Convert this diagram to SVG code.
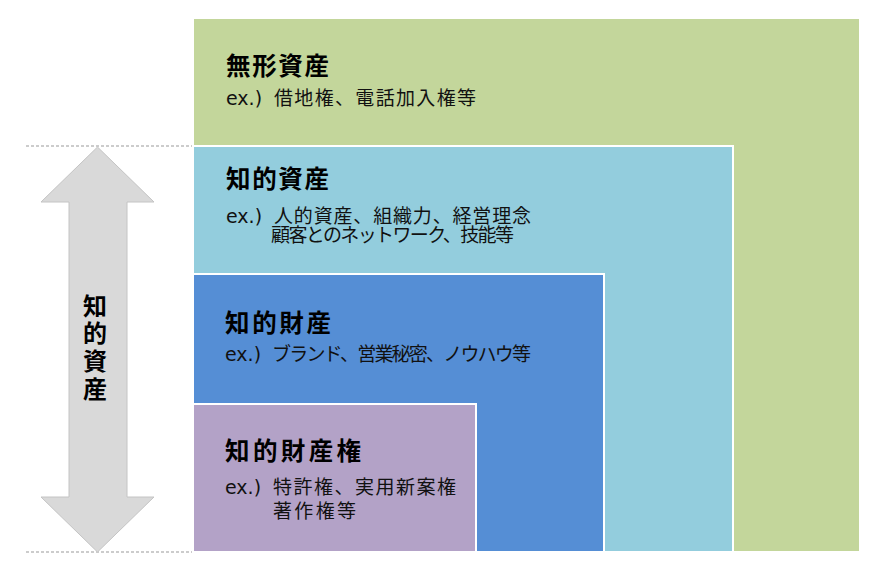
<svg xmlns="http://www.w3.org/2000/svg" width="888" height="570" viewBox="0 0 888 570">
<style>
.box{stroke:#fff;stroke-width:2}
.t{font-family:"Noto Sans CJK JP",sans-serif;font-weight:bold;font-size:24.5px;fill:#000}
.s{font-family:"Noto Sans CJK JP",sans-serif;font-size:19px;fill:#111}
.e{font-family:"DejaVu Sans",sans-serif;font-size:19px;fill:#111}
.v{font-family:"Noto Sans CJK JP",sans-serif;font-weight:bold;font-size:24px;fill:#000;text-anchor:middle}
.dash{stroke:#999;stroke-width:1;stroke-dasharray:3 2}
</style>
<rect width="888" height="570" fill="#fff"/>
<g id="connectors">
<line class="dash" x1="26" y1="146" x2="193" y2="146"/>
<line class="dash" x1="26" y1="552" x2="193" y2="552"/>
</g>
<g id="arrow">
<polygon points="97.5,147 154,202 127,202 127,497 154,497 97.5,552 41,497 69,497 69,202 41,202" fill="#d9d9d9" stroke="#c4c4c4" stroke-width="1"/>
<text class="v" x="95" y="315">知</text>
<text class="v" x="95" y="342">的</text>
<text class="v" x="95" y="370">資</text>
<text class="v" x="95" y="398">産</text>
</g>
<g id="mukei">
<rect class="box" x="193" y="18" width="667" height="534" fill="#c3d69b"/>
<text class="t" x="226" y="75" textLength="103" lengthAdjust="spacing">無形資産</text>
<text class="e" x="226" y="105">ex.)</text>
<text class="s" x="274" y="105" textLength="202" lengthAdjust="spacing">借地権、電話加入権等</text>
</g>
<g id="chiteki-shisan">
<rect class="box" x="193" y="146" width="540" height="406" fill="#93cddd"/>
<text class="t" x="226" y="188" textLength="103" lengthAdjust="spacing">知的資産</text>
<text class="e" x="226" y="223">ex.)</text>
<text class="s" x="274" y="223" textLength="257" lengthAdjust="spacing">人的資産、組織力、経営理念</text>
<text class="s" x="271" y="241.5" textLength="243" lengthAdjust="spacing">顧客とのネットワーク、技能等</text>
</g>
<g id="chiteki-zaisan">
<rect class="box" x="193" y="274" width="411" height="278" fill="#558ed5"/>
<text class="t" x="225" y="332" textLength="106" lengthAdjust="spacing">知的財産</text>
<text class="e" x="225" y="361">ex.)</text>
<text class="s" x="272" y="361" textLength="259" lengthAdjust="spacing">ブランド、営業秘密、ノウハウ等</text>
</g>
<g id="chiteki-zaisanken">
<rect class="box" x="193" y="404" width="283" height="148" fill="#b3a2c7"/>
<text class="t" x="225" y="460" textLength="136" lengthAdjust="spacing">知的財産権</text>
<text class="e" x="225" y="494">ex.)</text>
<text class="s" x="273" y="494" textLength="183" lengthAdjust="spacing">特許権、実用新案権</text>
<text class="s" x="273" y="518" textLength="83" lengthAdjust="spacing">著作権等</text>
</g>
</svg>
